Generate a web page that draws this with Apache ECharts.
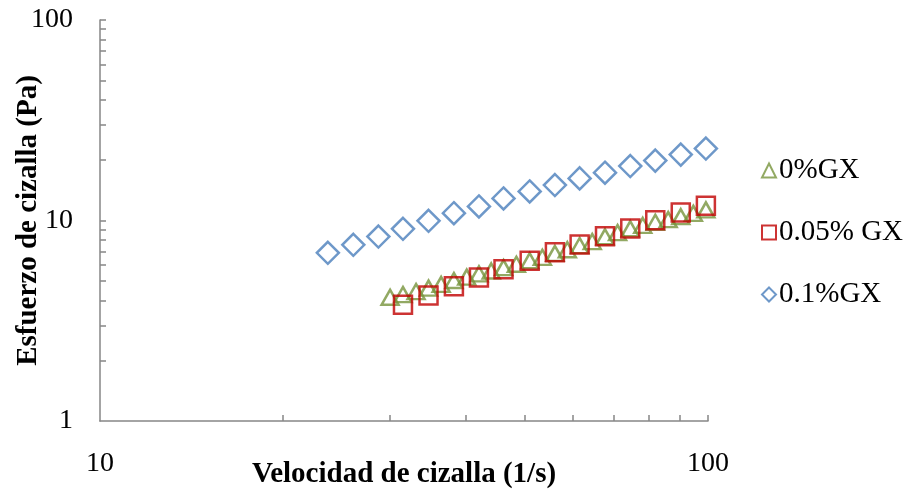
<!DOCTYPE html>
<html>
<head>
<meta charset="utf-8">
<script src="https://cdn.jsdelivr.net/npm/echarts@6/dist/echarts.min.js"></script>
<style>
html,body{margin:0;padding:0;background:#fff;}
#chart{width:909px;height:492px;}
</style>
</head>
<body>
<div id="chart"></div>
<script>
// Data
const seriesNames = ['0%GX', '0.05% GX', '0.1%GX'];

const xGX0 = [30.0, 31.5, 33.1, 34.7, 36.4, 38.2, 40.1, 42.0, 44.0, 46.1, 48.4, 50.9, 53.4,
              56.0, 58.7, 61.5, 64.5, 67.7, 71.0, 74.5, 78.1, 81.9, 86.0, 90.2, 94.6, 99.2];
const yGX0 = [4.14, 4.27, 4.42, 4.60, 4.80, 5.02, 5.22, 5.42, 5.60, 5.82, 6.05, 6.30, 6.55,
              6.85, 7.15, 7.50, 7.85, 8.30, 8.70, 9.10, 9.45, 9.80, 10.10, 10.45, 10.85, 11.30];

const xGX005 = [31.5, 34.7, 38.2, 42.0, 46.1, 50.9, 56.0, 61.5, 67.7, 74.5, 81.9, 90.2, 99.2];
const yGX005 = [3.80, 4.23, 4.70, 5.19, 5.71, 6.29, 6.95, 7.59, 8.35, 9.12, 10.04, 10.96, 11.84];

const xGX01 = [23.7, 26.1, 28.7, 31.5, 34.7, 38.2, 42.0, 46.1, 50.9, 56.0, 61.5, 67.7, 74.5, 81.9, 90.2, 99.2];
const yGX01 = [6.90, 7.56, 8.32, 9.09, 9.97, 10.88, 11.75, 12.88, 13.96, 15.02, 16.22, 17.32, 18.69, 19.89, 21.31, 22.84];

const xTicks = [20, 30, 40, 50, 60, 70, 80, 90, 100];
const yTicks = [2, 3, 4, 5, 6, 7, 8, 9, 10, 20, 30, 40, 50, 60, 70, 80, 90, 100];

const colors = ['#77933C', '#C00000', '#4A7EBB'];
const font = '"Liberation Serif", "Times New Roman", serif';

function zip(xs, ys) { return xs.map((x, i) => [x, ys[i]]); }

const chart = echarts.init(document.getElementById('chart'), null, {renderer: 'canvas'});
const axisColor = '#868686';

chart.setOption({
  animation: false,
  backgroundColor: '#fff',
  grid: {left: 100, top: 20, width: 608, height: 401, containLabel: false, outerBoundsMode: 'none'},
  legend: {
    orient: 'vertical',
    left: 756,
    top: 151,
    itemGap: 33,
    itemWidth: 14,
    itemHeight: 14,
    textStyle: {fontFamily: font, fontSize: 29, color: '#000', padding: [0,0,0,-2]},
    data: seriesNames
  },
  xAxis: {
    type: 'log', logBase: 10, min: 10, max: 100,
    name: 'Velocidad de cizalla (1/s)',
    nameLocation: 'middle', nameGap: 39, nameMoveOverlap: false,
    nameTextStyle: {fontFamily: font, fontSize: 29, fontWeight: 'bold', color: '#000'},
    axisLine: {show: true, lineStyle: {color: axisColor, width: 1.5}},
    axisTick: {show: true, inside: true, length: 6, customValues: xTicks, lineStyle: {color: axisColor, width: 1.5}},
    axisLabel: {fontFamily: font, fontSize: 28, color: '#000', margin: 29},
    splitLine: {show: false},
    minorTick: {show: false}
  },
  yAxis: {
    type: 'log', logBase: 10, min: 1, max: 100,
    name: 'Esfuerzo de cizalla (Pa)',
    nameLocation: 'middle', nameGap: 57, nameMoveOverlap: false,
    nameTextStyle: {fontFamily: font, fontSize: 29, fontWeight: 'bold', color: '#000'},
    axisLine: {show: true, lineStyle: {color: axisColor, width: 1.5}},
    axisTick: {show: true, inside: true, length: 6, customValues: yTicks, lineStyle: {color: axisColor, width: 1.5}},
    axisLabel: {fontFamily: font, fontSize: 28, color: '#000', margin: 27},
    splitLine: {show: false}
  },
  series: [
    {
      name: seriesNames[0], type: 'scatter', symbol: 'triangle', symbolSize: [17, 15],
      itemStyle: {color: 'rgba(0,0,0,0)', borderColor: colors[0], borderWidth: 2.5},
      data: zip(xGX0, yGX0), z: 2
    },
    {
      name: seriesNames[1], type: 'scatter', symbol: 'rect', symbolSize: 18,
      itemStyle: {color: 'rgba(0,0,0,0)', borderColor: colors[1], borderWidth: 2.5},
      data: zip(xGX005, yGX005), z: 3
    },
    {
      name: seriesNames[2], type: 'scatter', symbol: 'diamond', symbolSize: 22,
      itemStyle: {color: 'rgba(0,0,0,0)', borderColor: colors[2], borderWidth: 2.5},
      data: zip(xGX01, yGX01), z: 4
    }
  ]
});
</script>
</body>
</html>
